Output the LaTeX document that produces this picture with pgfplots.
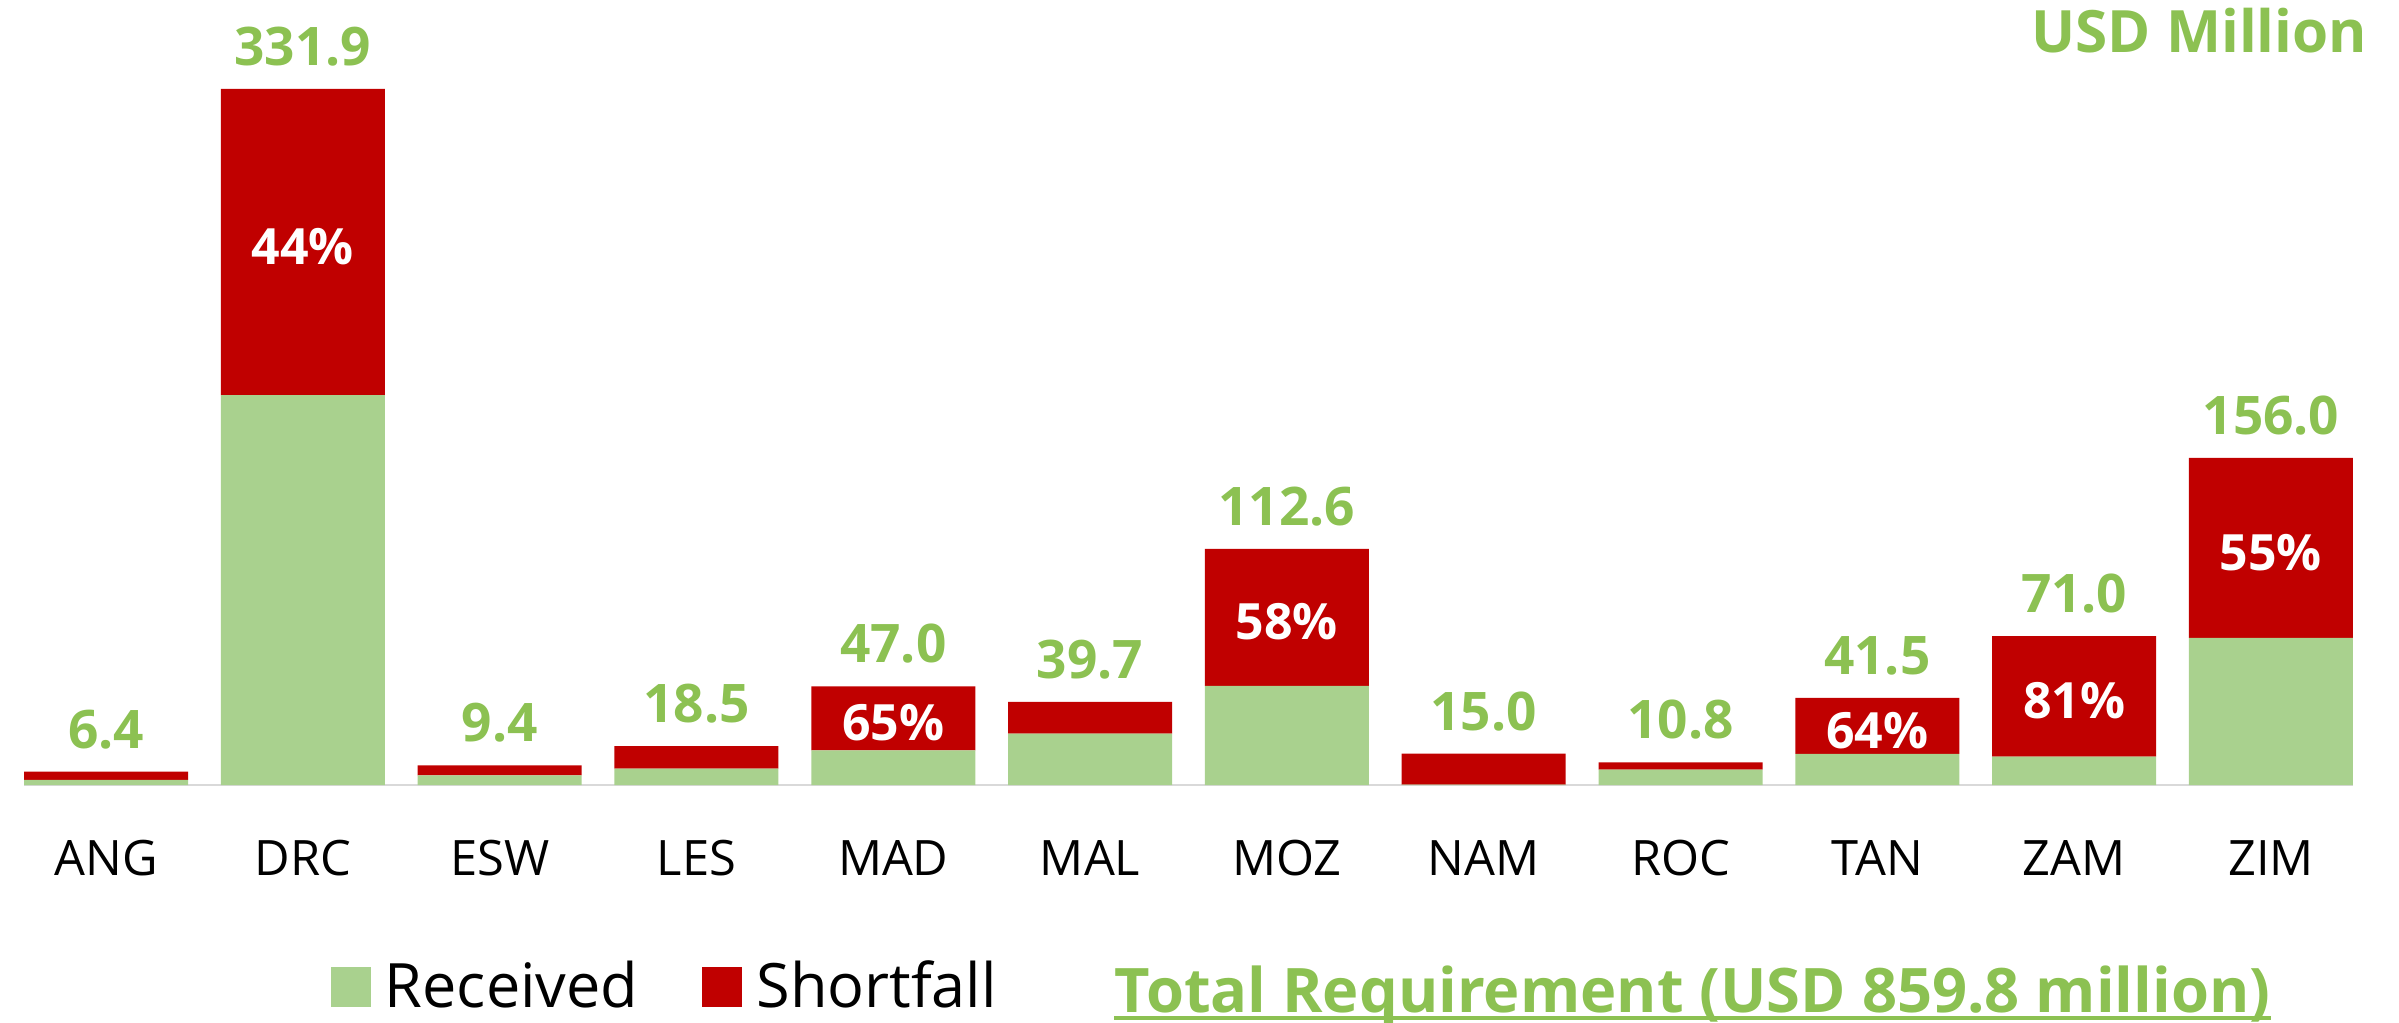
\documentclass[border=0pt]{standalone}
\usepackage{fontspec}
\setmainfont{Open Sans}
\usepackage{pgfplots}
\pgfplotsset{compat=1.18}
\usepackage{pgfplotstable}
\usetikzlibrary{calc}
\definecolor{recv}{HTML}{A9D18E}
\definecolor{shortc}{HTML}{C00000}
\definecolor{lgreen}{RGB}{140,193,82}
\definecolor{axgray}{HTML}{D9D9D9}

\pgfplotstableread{
x rec short
0 2.4 4.0
1 185.9 146.0
2 4.6 4.8
3 7.8 10.7
4 16.5 30.5
5 24.5 15.2
6 47.3 65.3
7 0.2 14.8
8 7.4 3.4
9 14.9 26.6
10 13.5 57.5
11 70.2 85.8
}\datatable

\pgfplotsset{
  commonaxis/.style={
    at={(6pt,59.25pt)}, anchor=south west,
    scale only axis, width=582.25pt, height=196.25pt,
    xmin=-0.417, xmax=11.417, ymin=0, ymax=374.3,
  }
}

\begin{document}
\begin{tikzpicture}
\useasboundingbox (0,0) rectangle (599.75pt,255.5pt);
\begin{axis}[
  commonaxis,
  ybar stacked, bar width=41pt,
  axis x line*=bottom, axis y line=none,
  x axis line style={axgray, line width=0.6pt, -},
  xtick={0,...,11},
  xticklabels={ANG,DRC,ESW,LES,MAD,MAL,MOZ,NAM,ROC,TAN,ZAM,ZIM},
  major tick length=0pt,
  xticklabel style={font=\fontsize{12.2}{14}\selectfont, anchor=base, yshift=-22.5pt},
  legend style={at={(axis description cs:0.1314,-0.2573)}, anchor=west,
    draw=none, fill=none, inner sep=0pt, legend columns=2,
    font=\fontsize{15.3}{18}\selectfont,
    /tikz/every odd column/.append style={column sep=1.5pt},
    /tikz/every even column/.append style={column sep=14pt}},
  legend image code/.code={\fill[#1] (0pt,-5pt) rectangle (10pt,5pt);},
]
\addplot[fill=recv, draw=none] table[x=x, y=rec] {\datatable};
\addplot[fill=shortc, draw=none] table[x=x, y=short] {\datatable};
\legend{Received, Shortfall}
\end{axis}

\begin{axis}[
  commonaxis, hide axis,
  point meta=explicit symbolic,
  nodes near coords,
]
\addplot[draw=none, mark=none,
  every node near coord/.append style={anchor=south, inner sep=0pt, yshift=5.5pt,
    text=lgreen, font=\bfseries\fontsize{13.3}{16}\selectfont}]
  coordinates {
  (0,6.4) [6.4] (1,331.9) [331.9] (2,9.4) [9.4] (3,18.5) [18.5]
  (4,47.0) [47.0] (5,39.7) [39.7] (6,112.6) [112.6] (7,15.0) [15.0]
  (8,10.8) [10.8] (9,41.5) [41.5] (10,71.0) [71.0] (11,156.0) [156.0]
  };
\addplot[draw=none, mark=none,
  every node near coord/.append style={anchor=center, inner sep=0pt, yshift=-1.1pt,
    text=white, font=\bfseries\fontsize{12.5}{15}\selectfont}]
  coordinates {
  (1,258.9) [44\%] (4,31.75) [65\%] (6,79.95) [58\%]
  (9,28.2) [64\%] (10,42.25) [81\%] (11,113.1) [55\%]
  };
\end{axis}

\node[anchor=east, inner sep=0pt, text=lgreen, font=\bfseries\fontsize{14.6}{17}\selectfont]
  at (592pt,247.75pt) {USD Million};

\node[anchor=base west, inner sep=0pt, text=lgreen, font=\bfseries\fontsize{15.35}{18}\selectfont]
  (tr) at (278.5pt,2.5pt) {Total Requirement (USD 859.8 million)};
\draw[lgreen, line width=1.1pt] (tr.west |- 0,1pt) -- (tr.east |- 0,1pt);
\end{tikzpicture}
\end{document}
